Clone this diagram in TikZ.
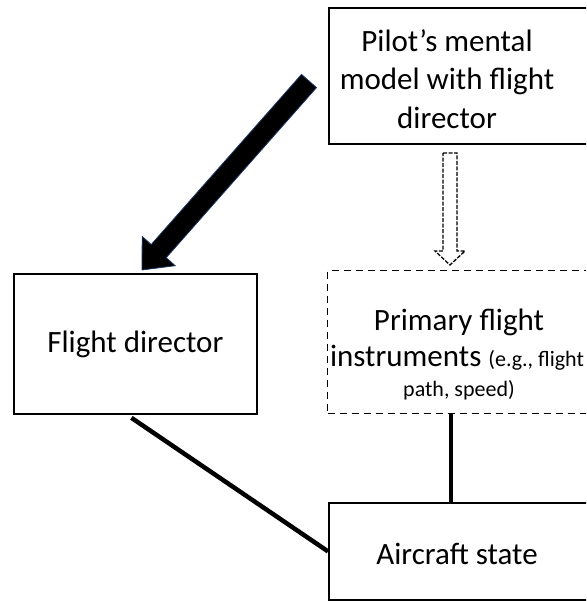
\documentclass[tikz,border=0pt]{standalone}
\usepackage{fontspec}
\setmainfont{Carlito}
\usetikzlibrary{calc}
\definecolor{arrowedge}{HTML}{1F3864}
\tikzset{
  box/.style={draw=black, line width=1.8pt, fill=white, inner sep=0pt},
  dbox/.style={draw=black, line width=1.3pt, dash pattern=on 7pt off 5pt, fill=white, inner sep=0pt},
  txt/.style={inner sep=0pt, align=center, font=\fontsize{31}{38.5}\selectfont},
  conn/.style={line width=4.5pt, draw=black},
}
\begin{document}
\begin{tikzpicture}[x=1pt,y=-1pt]
\useasboundingbox (0,0) rectangle (586,601);
\begin{scope}
\clip (0,0) rectangle (586,601);
% boxes
\node[box, minimum width=300pt, minimum height=136pt, anchor=north west] (pilot) at (328,7) {};
\node[txt] (pilottxt) at (447,79) {Pilot’s mental\\model with flight\\director};

\node[box, minimum width=243pt, minimum height=140pt, anchor=north west] (fd) at (13,273) {};
\node[txt] (fdtxt) at (fd.center) {Flight director};

\node[dbox, minimum width=300pt, minimum height=143pt, anchor=north west] (prim) at (327,270) {};
\node[txt, anchor=base] (primtxt1) at (459,330) {Primary flight};
\node[txt, anchor=base] (primtxt2) at (457,366) {instruments {\fontsize{22}{26}\selectfont (e.g., flight}};
\node[txt, anchor=base, font=\fontsize{22}{26}\selectfont] (primtxt3) at (459,396) {path, speed)};

\node[box, minimum width=300pt, minimum height=97pt, anchor=north west] (air) at (328,502) {};
\node[txt] (airtxt) at (457,554) {Aircraft state};

% connectors
\coordinate (fdout) at ($(fd.south)+(-4,3)$);
\draw[conn] (fdout) -- (air.west);
\coordinate (primout) at ($(prim.south west)+(124,0)$);
\draw[conn] (primout) -- (primout |- air.north);

% big solid arrow
\coordinate (b1) at (301.5,74.4);
\coordinate (b2) at (151.2,244.5);
\coordinate (b3) at (142.2,236.5);
\coordinate (b4) at (142,270);
\coordinate (b5) at (175.2,265.7);
\coordinate (b6) at (166.2,257.7);
\coordinate (b7) at (316.5,87.6);
\filldraw[fill=black, draw=arrowedge, line width=0.8pt, line join=miter] (b1) -- (b2) -- (b3) -- (b4) -- (b5) -- (b6) -- (b7) -- cycle;

% dashed hollow arrow
\coordinate (h1) at (443,153);
\coordinate (h2) at (457,153);
\coordinate (h3) at (457,251);
\coordinate (h4) at (465,251);
\coordinate (h5) at (450,265);
\coordinate (h6) at (435,251);
\coordinate (h7) at (443,251);
\draw[line width=1.3pt, dash pattern=on 4pt off 1.5pt] (h1) -- (h2) -- (h3) -- (h4) -- (h5) -- (h6) -- (h7) -- cycle;
\end{scope}
\end{tikzpicture}
\end{document}
